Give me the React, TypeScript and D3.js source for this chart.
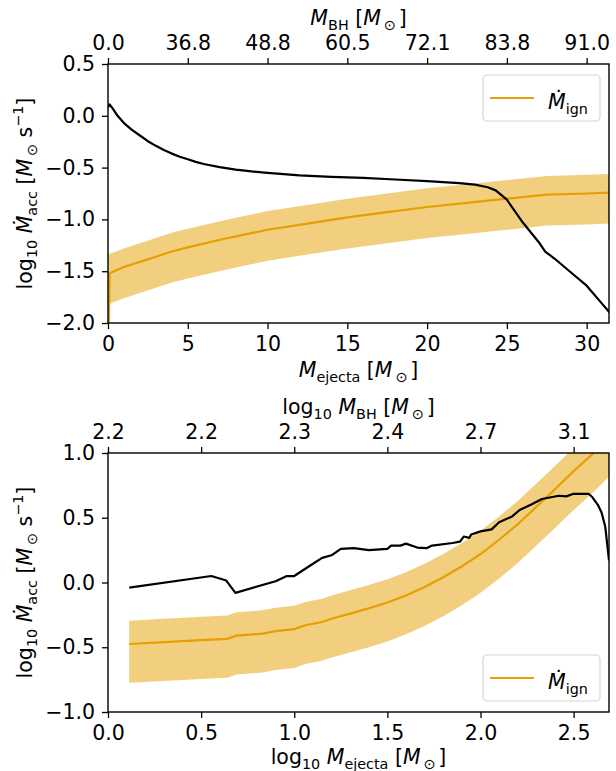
import { useRef, useEffect } from "react";
import * as d3 from "d3";

const ORANGE = "#e69f00";
const FONT = "DejaVu Sans";
const FS = 20.5;

// ---- top panel: linear ejecta mass ----
const topAccX = [0, 0.1, 0.3, 0.6, 1, 1.5, 2, 2.5, 3, 3.5, 4, 4.5, 5, 5.5, 6, 7, 8, 9, 10, 12, 14, 16, 18, 20, 21, 22, 23, 23.8, 24.3, 25, 26, 27, 27.4, 28, 29, 30, 31, 31.5];
const topAccY = [0.08, 0.11, 0.07, 0.0, -0.07, -0.135, -0.19, -0.245, -0.29, -0.33, -0.365, -0.395, -0.42, -0.445, -0.465, -0.495, -0.52, -0.537, -0.55, -0.575, -0.59, -0.6, -0.615, -0.63, -0.64, -0.65, -0.665, -0.69, -0.72, -0.81, -1.03, -1.22, -1.31, -1.38, -1.51, -1.64, -1.82, -1.91];

const topIgnX = [0, 0.1, 1, 2, 3, 4, 5, 7.5, 10, 12.5, 15, 17.5, 20, 22.5, 25, 27.5, 30, 31.5];
const topIgnY = [-2.6, -1.52, -1.46, -1.41, -1.36, -1.31, -1.27, -1.18, -1.1, -1.04, -0.98, -0.93, -0.88, -0.84, -0.8, -0.76, -0.75, -0.74];

const topBandX = [0, 1, 2, 3, 4, 5, 7.5, 10, 12.5, 15, 17.5, 20, 22.5, 25, 27.5, 30, 31.5];
const topBandHi = [-1.34, -1.28, -1.23, -1.18, -1.13, -1.09, -1.0, -0.92, -0.86, -0.8, -0.75, -0.7, -0.66, -0.62, -0.58, -0.57, -0.56];
const topBandLo = [-1.82, -1.76, -1.71, -1.66, -1.61, -1.57, -1.48, -1.4, -1.34, -1.28, -1.23, -1.18, -1.14, -1.1, -1.06, -1.05, -1.04];

const topXTicks = [0, 5, 10, 15, 20, 25, 30];
const topYTicks = [0.5, 0, -0.5, -1, -1.5, -2];
const topBHLabels = ["0.0", "36.8", "48.8", "60.5", "72.1", "83.8", "91.0"];

// ---- bottom panel: log ejecta mass ----
const botAccX = [0.114, 0.555, 0.635, 0.684, 0.9, 0.96, 1.0, 1.09, 1.15, 1.2, 1.25, 1.32, 1.4, 1.5, 1.52, 1.57, 1.6, 1.66, 1.71, 1.74, 1.85, 1.89, 1.91, 1.94, 1.95, 2.0, 2.06, 2.1, 2.17, 2.21, 2.27, 2.33, 2.42, 2.46, 2.5, 2.58, 2.6, 2.63, 2.65, 2.67, 2.69];
const botAccY = [-0.04, 0.05, 0.015, -0.08, 0.01, 0.05, 0.05, 0.135, 0.19, 0.21, 0.26, 0.265, 0.25, 0.26, 0.285, 0.285, 0.3, 0.27, 0.265, 0.285, 0.305, 0.315, 0.355, 0.345, 0.37, 0.395, 0.41, 0.465, 0.51, 0.56, 0.6, 0.645, 0.67, 0.665, 0.685, 0.685, 0.66, 0.6, 0.54, 0.43, 0.17];

const botIgnX = [0.114, 0.3, 0.5, 0.64, 0.69, 0.83, 0.9, 1.0, 1.06, 1.15, 1.2, 1.3, 1.4, 1.5, 1.6, 1.7, 1.8, 1.9, 2.0, 2.1, 2.2, 2.3, 2.4, 2.5, 2.6, 2.7];
const botIgnY = [-0.475, -0.46, -0.445, -0.435, -0.41, -0.395, -0.375, -0.36, -0.33, -0.305, -0.28, -0.24, -0.2, -0.155, -0.1, -0.035, 0.04, 0.125, 0.22, 0.33, 0.45, 0.585, 0.72, 0.86, 0.99, 1.13];
const botBandHi = [-0.295, -0.28, -0.265, -0.255, -0.23, -0.215, -0.195, -0.18, -0.15, -0.125, -0.1, -0.06, -0.02, 0.025, 0.08, 0.145, 0.22, 0.305, 0.4, 0.51, 0.63, 0.765, 0.9, 1.04, 1.17, 1.31];
const botBandLo = [-0.775, -0.76, -0.745, -0.735, -0.71, -0.695, -0.675, -0.66, -0.63, -0.605, -0.58, -0.54, -0.5, -0.455, -0.4, -0.335, -0.26, -0.175, -0.08, 0.03, 0.15, 0.285, 0.42, 0.56, 0.69, 0.83];

const botXTicks = [0, 0.5, 1, 1.5, 2, 2.5];
const botYTicks = [1, 0.5, 0, -0.5, -1];
const botBHLabels = ["2.2", "2.2", "2.3", "2.4", "2.7", "3.1"];

type Seg = { t: string; it?: boolean; sub?: boolean; sup?: boolean };

const MSUN: Seg[] = [{ t: " [" }, { t: "M", it: true }, { t: "\u2009⊙\u2009", sub: true }, { t: "]" }];
const yLabel: Seg[] = [
  { t: "log" }, { t: "10", sub: true }, { t: " " }, { t: "Ṁ", it: true }, { t: "acc", sub: true },
  { t: " [" }, { t: "M", it: true }, { t: "\u2009⊙", sub: true }, { t: " s" }, { t: "−1", sup: true }, { t: "]" },
];
const ignLabel: Seg[] = [{ t: "Ṁ", it: true }, { t: "ign", sub: true }];

const L = 108;
const R = 609;
const H = 259;

function mathText(sel: any, segs: Seg[], fs: number) {
  let prev = 0;
  segs.forEach((s) => {
    const shift = s.sub ? 0.22 * fs : s.sup ? -0.42 * fs : 0;
    sel.append("tspan")
      .attr("dy", shift - prev)
      .attr("font-size", s.sub || s.sup ? fs * 0.7 : fs)
      .attr("font-style", s.it ? "italic" : "normal")
      .text(s.t);
    prev = shift;
  });
}

function drawPanel(root: any, p: any) {
  const top = p.top;
  const bottom = top + H;
  const x = d3.scaleLinear().domain(p.xDomain).range([L, R]);
  const y = d3.scaleLinear().domain(p.yDomain).range([bottom, top]);
  const g = root.append("g");

  g.append("clipPath").attr("id", p.id)
    .append("rect").attr("x", L).attr("y", top).attr("width", R - L).attr("height", H);
  const plot = g.append("g").attr("clip-path", `url(#${p.id})`);

  const band = d3.area<number>()
    .x((d) => x(d))
    .y0((_, i) => y(p.bandLo[i]))
    .y1((_, i) => y(p.bandHi[i]));
  plot.append("path").datum(p.bandX).attr("d", band)
    .attr("fill", ORANGE).attr("fill-opacity", 0.5);

  const line = (ys: number[]) => d3.line<number>().x((d) => x(d)).y((_, i) => y(ys[i]));
  plot.append("path").datum(p.ignX).attr("d", line(p.ignY))
    .attr("fill", "none").attr("stroke", ORANGE).attr("stroke-width", 2.2);
  plot.append("path").datum(p.accX).attr("d", line(p.accY))
    .attr("fill", "none").attr("stroke", "black").attr("stroke-width", 2.2)
    .attr("stroke-linejoin", "round");

  const style = (ax: any) => {
    ax.attr("font-family", FONT).attr("font-size", FS);
    ax.select(".domain").remove();
    ax.selectAll(".tick line").attr("stroke-width", 1.3);
    ax.selectAll(".tick text").attr("fill", "black");
  };

  g.append("g").attr("transform", `translate(0,${bottom})`)
    .call(d3.axisBottom(x).tickValues(p.xTicks).tickFormat(p.xFmt).tickSize(6).tickPadding(7).tickSizeOuter(0))
    .call(style);
  g.append("g").attr("transform", `translate(${L},0)`)
    .call(d3.axisLeft(y).tickValues(p.yTicks).tickFormat(d3.format(".1f")).tickSize(6).tickPadding(7).tickSizeOuter(0))
    .call(style);
  g.append("g").attr("transform", `translate(0,${top})`)
    .call(d3.axisTop(x).tickValues(p.xTicks).tickFormat((_: any, i: number) => p.topLabels[i]).tickSize(6).tickPadding(8).tickSizeOuter(0))
    .call(style);

  g.append("rect").attr("x", L).attr("y", top).attr("width", R - L).attr("height", H)
    .attr("fill", "none").attr("stroke", "black").attr("stroke-width", 1.4);

  const cx = (L + R) / 2;
  const lab = (yy: number, segs: Seg[]) =>
    mathText(g.append("text").attr("x", cx).attr("y", yy).attr("text-anchor", "middle")
      .attr("font-family", FONT).attr("font-size", FS).style("white-space", "pre"), segs, FS);
  lab(bottom + p.xLabelGap, p.xLabel);
  lab(top - 39, p.topLabel);

  mathText(g.append("text").attr("transform", `translate(32,${top + H / 2}) rotate(-90)`)
    .attr("text-anchor", "middle").attr("font-family", FONT).attr("font-size", FS)
    .style("white-space", "pre"), yLabel, FS);

  // legend
  const lw = 117;
  const lh = 46;
  const lx = R - 9 - lw;
  const ly = p.legendTop ? top + 11 : bottom - 11 - lh;
  const lg = g.append("g").attr("transform", `translate(${lx},${ly})`);
  lg.append("rect").attr("width", lw).attr("height", lh).attr("rx", 4)
    .attr("fill", "white").attr("fill-opacity", 0.8).attr("stroke", "#d6d6d6").attr("stroke-width", 1.2);
  lg.append("line").attr("x1", 7).attr("x2", 51).attr("y1", lh / 2).attr("y2", lh / 2)
    .attr("stroke", ORANGE).attr("stroke-width", 2.2);
  mathText(lg.append("text").attr("x", 65).attr("y", 34).attr("font-family", FONT)
    .attr("font-size", FS), ignLabel, FS);
}

export default function App() {
  const ref = useRef<SVGSVGElement>(null);

  useEffect(() => {
    const svg = d3.select(ref.current);
    svg.selectAll("*").remove();
    drawPanel(svg, {
      id: "clipTop", top: 64, xDomain: [0, 31.4], yDomain: [-2, 0.5],
      accX: topAccX, accY: topAccY, ignX: topIgnX, ignY: topIgnY,
      bandX: topBandX, bandHi: topBandHi, bandLo: topBandLo,
      xTicks: topXTicks, yTicks: topYTicks, topLabels: topBHLabels,
      xFmt: d3.format("d"), legendTop: true, xLabelGap: 54,
      xLabel: [{ t: "M", it: true }, { t: "ejecta", sub: true }, ...MSUN],
      topLabel: [{ t: "M", it: true }, { t: "BH", sub: true }, ...MSUN],
    });
    drawPanel(svg, {
      id: "clipBot", top: 453, xDomain: [0, 2.69], yDomain: [-1, 1],
      accX: botAccX, accY: botAccY, ignX: botIgnX, ignY: botIgnY,
      bandX: botIgnX, bandHi: botBandHi, bandLo: botBandLo,
      xTicks: botXTicks, yTicks: botYTicks, topLabels: botBHLabels,
      xFmt: d3.format(".1f"), legendTop: false, xLabelGap: 52,
      xLabel: [{ t: "log" }, { t: "10", sub: true }, { t: " " }, { t: "M", it: true }, { t: "ejecta", sub: true }, ...MSUN],
      topLabel: [{ t: "log" }, { t: "10", sub: true }, { t: " " }, { t: "M", it: true }, { t: "BH", sub: true }, ...MSUN],
    });
  }, []);

  return (
    <svg ref={ref} width={616} height={771}
      style={{ position: "absolute", left: 0, top: 0, background: "white" }} />
  );
}
